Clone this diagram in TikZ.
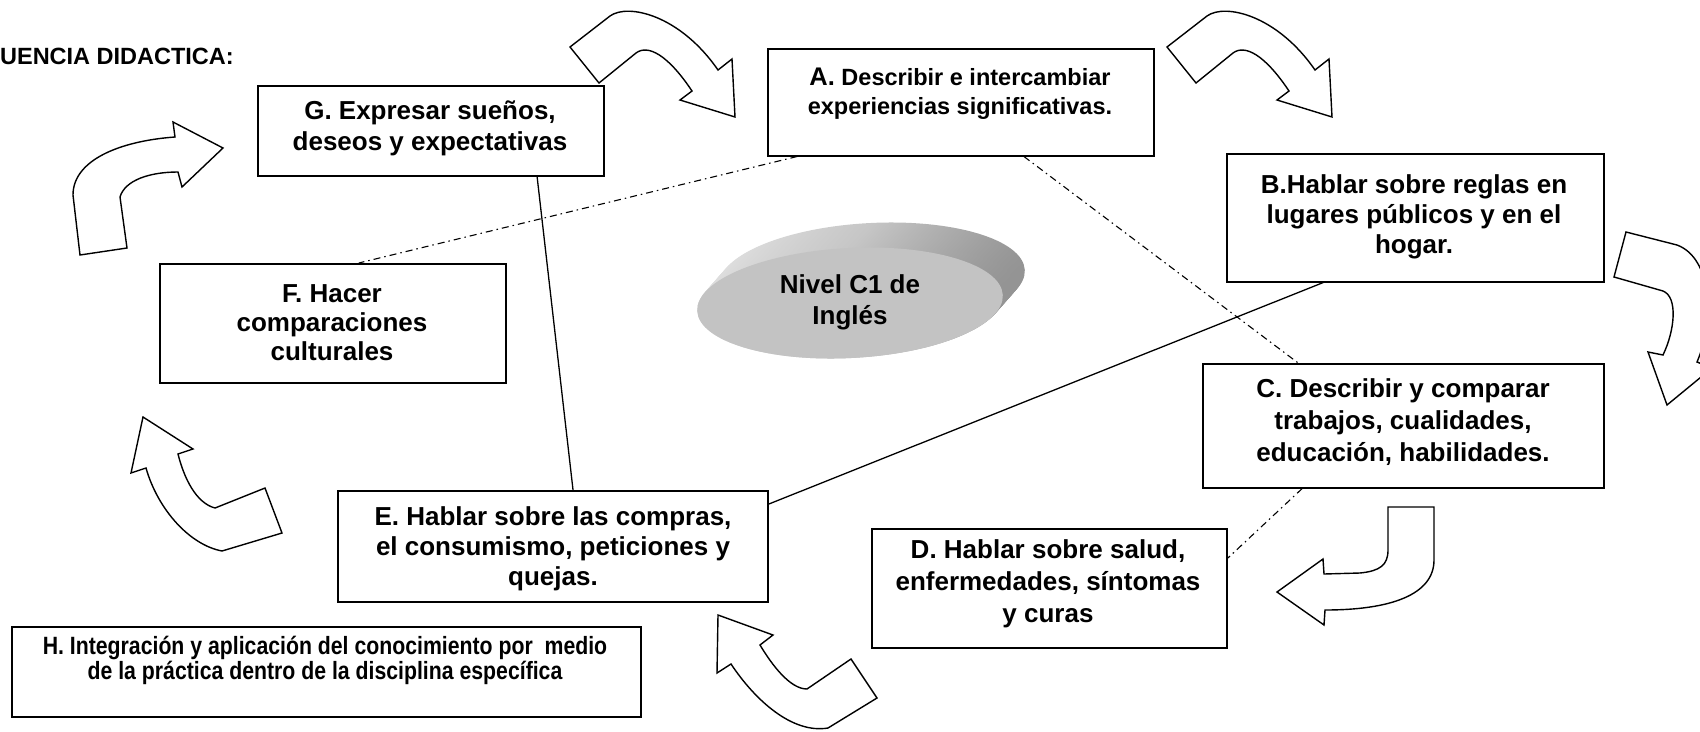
\documentclass[tikz,border=0pt]{standalone}
\usepackage{fontspec}
\setmainfont{Liberation Sans}
\newfontfamily\narrowfont[FakeStretch=0.85]{Liberation Sans}
\usetikzlibrary{calc}
\definecolor{ellface}{HTML}{C3C3C3}
\definecolor{bandlight}{HTML}{E0E0E0}
\definecolor{bandmid}{HTML}{C6C6C6}
\definecolor{banddark}{HTML}{939393}
\begin{document}
\begin{tikzpicture}[x=1pt,y=-1pt,
  box/.style={draw, line width=1.5pt, inner sep=0pt, anchor=north west},
  txt/.style={align=center, font=\fontsize{26}{31}\selectfont\bfseries, inner sep=0pt},
  barrow/.style={draw, fill=white, line width=1.4pt, line join=miter},
  dashdot/.style={line width=1.1pt, dash pattern=on 7pt off 4pt on 1.5pt off 4pt},
  conn/.style={line width=1.3pt}]
\useasboundingbox (0,0) rectangle (1700,731);
\clip (0,0) rectangle (1700,731);

% header
\node[anchor=base east, inner sep=0pt, font=\fontsize{23.5}{28}\selectfont\bfseries] (head) at (234,64) {UENCIA DIDACTICA:};

% boxes
\node[box, minimum width=346pt, minimum height=90pt] (G) at (257,85) {};
\node[box, minimum width=386pt, minimum height=107pt] (A) at (767,48) {};
\node[box, minimum width=377pt, minimum height=128pt] (B) at (1226,153) {};
\node[box, minimum width=401pt, minimum height=124pt] (C) at (1202,363) {};
\node[box, minimum width=355pt, minimum height=119pt] (D) at (871,528) {};
\node[box, minimum width=430pt, minimum height=111pt] (E) at (337,490) {};
\node[box, minimum width=346pt, minimum height=119pt] (F) at (159,263) {};
\node[box, minimum width=629pt, minimum height=90pt] (H) at (11,626) {};

% texts
\node[txt] (Gt) at (430,128) {G. Expresar sueños,\\deseos y expectativas};
\node[txt, font=\fontsize{23.5}{29}\selectfont\bfseries] (At) at (960,94) {{\fontsize{25.5}{29}\selectfont A.} Describir e intercambiar\\experiencias significativas.};
\node[txt, font=\fontsize{26}{30}\selectfont\bfseries] (Bt) at (1414,217) {B.Hablar sobre reglas en\\lugares públicos y en el\\hogar.};
\node[txt, font=\fontsize{26}{32}\selectfont\bfseries] (Ct) at (1403,422) {C. Describir y comparar\\trabajos, cualidades,\\educación, habilidades.};
\node[txt, font=\fontsize{26}{32}\selectfont\bfseries] (Dt) at (1048,584) {D. Hablar sobre salud,\\enfermedades, síntomas\\y curas};
\node[txt, font=\fontsize{26}{30}\selectfont\bfseries] (Et) at (553,549) {E. Hablar sobre las compras,\\el consumismo, peticiones y\\quejas.};
\node[txt, font=\fontsize{26}{29}\selectfont\bfseries] (Ft) at (332,323) {F. Hacer\\comparaciones\\culturales};
\node[txt, font=\narrowfont\fontsize{25}{25}\selectfont\bfseries] (Ht) at (325,660) {H. Integración y aplicación del conocimiento por\ \ medio\\de la práctica dentro de la disciplina específica};

% 3D disc
\foreach \i in {0,...,24}{
  \pgfmathsetmacro{\tt}{\i/24}
  \shade[left color=bandlight, right color=banddark, middle color=bandmid, shift={({850+22*(1-\tt)},{303-25*(1-\tt)})}, rotate=3]
    (0,0) ellipse [x radius=153pt, y radius=55pt];
}
\fill[ellface, shift={(850,303)}, rotate=3] (0,0) ellipse [x radius=153pt, y radius=55pt];
\node[txt] (ell) at (850,302) {Nivel C1 de\\Inglés};

% connectors
\draw[dashdot] ($(A.south west)!0.078!(A.south east)$) -- ($(F.north west)!0.575!(F.north east)$);
\draw[dashdot] ($(A.south west)!0.663!(A.south east)$) -- ($(C.north west)!0.239!(C.north east)$);
\draw[dashdot] ($(C.south west)!0.249!(C.south east)$) -- ($(D.north east)!0.252!(D.south east)$);
\draw[conn] ($(G.south west)!0.806!(G.south east)$) -- ($(E.north west)!0.547!(E.north east)$);
\draw[conn] ($(B.south west)!0.257!(B.south east)$) -- ($(E.north east)!0.126!(E.south east)$);

% block arrows
\draw[barrow] (570,47) -- (610,16) .. controls (628,3) and (680,15) .. (718,70) -- (732,59) -- (735,117) -- (680,100) -- (692,91) .. controls (668,55) and (648,44) .. (636,53) -- (599,83) -- cycle;
\begin{scope}[shift={(597,0)}]
\draw[barrow] (570,47) -- (610,16) .. controls (628,3) and (680,15) .. (718,70) -- (732,59) -- (735,117) -- (680,100) -- (692,91) .. controls (668,55) and (648,44) .. (636,53) -- (599,83) -- cycle;
\end{scope}
\draw[barrow] (80,255) -- (73,195) .. controls (73,160) and (120,141) .. (175,137) -- (173,122) -- (223,148) -- (182,187) -- (178,172) .. controls (150,172) and (125,180) .. (120,197) -- (127,248) -- cycle;
\draw[barrow] (1626,232) -- (1677,245) .. controls (1712,258) and (1715,320) .. (1697,362) -- (1712,368) -- (1667,405) -- (1648,352) -- (1663,355) .. controls (1675,330) and (1678,297) .. (1663,291) -- (1614,277) -- cycle;
\draw[barrow] (1388,507) -- (1434,507) -- (1434,560) .. controls (1434,595) and (1390,610) .. (1325,610) -- (1324,625) -- (1277,592) -- (1323,559) -- (1324,574) -- (1360,573) .. controls (1380,571) and (1388,565) .. (1388,550) -- cycle;
\draw[barrow] (718,615) -- (773,635) -- (760,645) .. controls (772,665) and (790,689) .. (807,689) -- (851,659) -- (877,698) -- (828,728) .. controls (792,734) and (755,700) .. (731,664) -- (717,673) -- cycle;
\draw[barrow] (143,417) -- (193,449) -- (178,454) .. controls (184,478) and (196,503) .. (215,508) -- (265,488) -- (282,533) -- (222,551) .. controls (190,545) and (158,510) .. (146,468) -- (131,473) -- cycle;
\end{tikzpicture}
\end{document}
